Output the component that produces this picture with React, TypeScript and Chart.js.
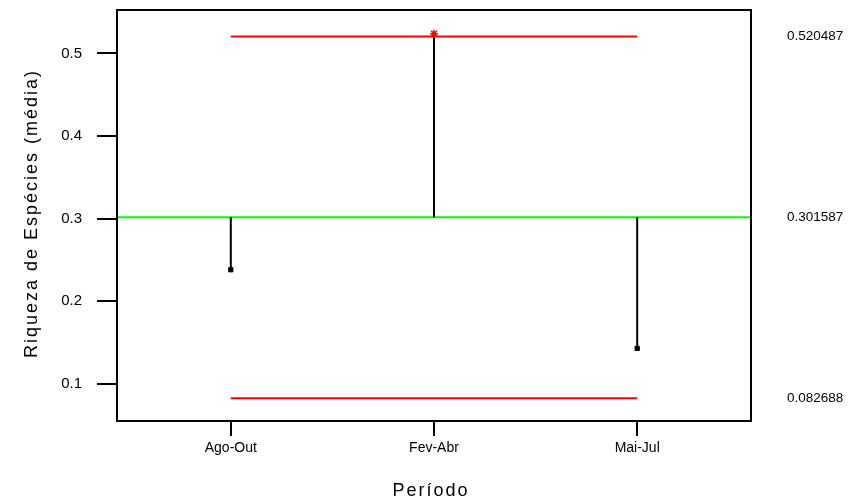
import React, { useEffect, useRef } from "react";
import { Chart, registerables } from "chart.js";

Chart.register(...registerables);

const categories = ["Ago-Out", "Fev-Abr", "Mai-Jul"];
const means = [0.238095, 0.52381, 0.142857];
const centerLine = 0.301587;
const upperLimit = 0.520487;
const lowerLimit = 0.082688;
const yTickValues = [0.1, 0.2, 0.3, 0.4, 0.5];
const yMin = 0.055;
const yMax = 0.5525;
const xMin = 0.44;
const xMax = 3.56;
const yTitle = "Riqueza de Espécies (média)";
const xTitle = "Período";

const FONT = "Arial, 'Liberation Sans', sans-serif";

export default function App() {
  const ref = useRef<HTMLCanvasElement | null>(null);

  useEffect(() => {
    const canvas = ref.current;
    if (!canvas) return;
    const xs = categories.map((_, i) => i + 1);

    const stemDatasets = means.map((m, i) => ({
      type: "line" as const,
      data: [
        { x: xs[i], y: centerLine },
        { x: xs[i], y: m },
      ],
      borderColor: "#000000",
      borderWidth: 2,
      pointRadius: 0,
      order: 3,
    }));

    const outside = means.map((m) => m > upperLimit || m < lowerLimit);

    const noPadV = (scale: any) => {
      scale.paddingTop = 0;
      scale.paddingBottom = 0;
    };

    const framePlugin = {
      id: "anomFrame",
      beforeDatasetsDraw(chart: any) {
        const { ctx, chartArea } = chart;
        const y = chart.scales.y.getPixelForValue(centerLine);
        ctx.save();
        ctx.strokeStyle = "#00ff00";
        ctx.lineWidth = 2;
        ctx.beginPath();
        ctx.moveTo(chartArea.left, y);
        ctx.lineTo(chartArea.right, y);
        ctx.stroke();
        ctx.restore();
      },
      afterDraw(chart: any) {
        const { ctx, chartArea } = chart;
        ctx.save();
        ctx.strokeStyle = "#000000";
        ctx.lineWidth = 2;
        ctx.strokeRect(
          chartArea.left,
          chartArea.top,
          chartArea.right - chartArea.left,
          chartArea.bottom - chartArea.top
        );
        // titles
        ctx.fillStyle = "#000000";
        ctx.font = `18px ${FONT}`;
        (ctx as any).letterSpacing = "2px";
        ctx.textAlign = "center";
        ctx.textBaseline = "alphabetic";
        ctx.fillText(xTitle, (chartArea.left + chartArea.right) / 2 - 3, 496);
        ctx.translate(36.5, (chartArea.top + chartArea.bottom) / 2 - 2);
        ctx.rotate(-Math.PI / 2);
        ctx.fillText(yTitle, 0, 0);
        ctx.restore();
      },
    };

    const chart = new Chart(canvas, {
      type: "scatter",
      data: {
        datasets: [
          {
            type: "line",
            data: [
              { x: 1, y: upperLimit },
              { x: 3, y: upperLimit },
            ],
            borderColor: "#ff0000",
            borderWidth: 2,
            pointRadius: 0,
            order: 2,
          },
          {
            type: "line",
            data: [
              { x: 1, y: lowerLimit },
              { x: 3, y: lowerLimit },
            ],
            borderColor: "#ff0000",
            borderWidth: 2,
            pointRadius: 0,
            order: 2,
          },
          ...stemDatasets,
          {
            type: "scatter",
            data: means.map((m, i) => ({ x: xs[i], y: m })),
            pointStyle: outside.map((o) => (o ? "star" : "rect")) as any,
            pointRadius: outside.map((o) => (o ? 4 : 3)),
            backgroundColor: outside.map((o) => (o ? "#ff0000" : "#000000")),
            borderColor: outside.map((o) => (o ? "#ff0000" : "#000000")),
            borderWidth: outside.map((o) => (o ? 1.5 : 1)),
            order: 1,
          },
        ] as any,
      },
      options: {
        animation: false,
        responsive: false,
        maintainAspectRatio: false,
        layout: { padding: { top: 10, left: 0, right: 0, bottom: 0 } },
        plugins: {
          legend: { display: false },
          tooltip: { enabled: false },
        },
        scales: {
          x: {
            type: "linear",
            min: xMin,
            max: xMax,
            afterBuildTicks: (scale: any) => {
              scale.ticks = xs.map((v) => ({ value: v }));
            },
            afterFit: (scale: any) => {
              scale.height = 83;
              scale.paddingLeft = 0;
              scale.paddingRight = 0;
            },
            grid: {
              display: true,
              drawOnChartArea: false,
              drawTicks: true,
              tickLength: 15,
              color: "#000000",
              lineWidth: 2,
            },
            border: { display: false },
            ticks: {
              color: "#000000",
              font: { family: FONT, size: 14 },
              padding: 4,
              maxRotation: 0,
              autoSkip: false,
              callback: (v: any) => categories[Math.round(Number(v)) - 1] ?? "",
            },
          },
          y: {
            type: "linear",
            position: "left",
            min: yMin,
            max: yMax,
            afterBuildTicks: (scale: any) => {
              scale.ticks = yTickValues.map((v) => ({ value: v }));
            },
            afterFit: (scale: any) => {
              scale.width = 117;
              noPadV(scale);
            },
            grid: {
              display: true,
              drawOnChartArea: false,
              drawTicks: true,
              tickLength: 20,
              color: "#000000",
              lineWidth: 2,
            },
            border: { display: false },
            ticks: {
              color: "#000000",
              font: { family: FONT, size: 15 },
              padding: 15,
              callback: (v: any) => Number(v).toFixed(1),
            },
          },
          y2: {
            type: "linear",
            position: "right",
            min: yMin,
            max: yMax,
            afterBuildTicks: (scale: any) => {
              scale.ticks = [lowerLimit, centerLine, upperLimit].map((v) => ({ value: v }));
            },
            afterFit: (scale: any) => {
              scale.width = 103;
              noPadV(scale);
            },
            grid: { display: false, drawTicks: false },
            border: { display: false },
            ticks: {
              color: "#000000",
              font: { family: FONT, size: 13.5 },
              padding: 36,
              callback: (v: any) => Number(v).toFixed(6),
            },
          },
        },
      },
      plugins: [framePlugin],
    });

    return () => chart.destroy();
  }, []);

  return (
    <div style={{ position: "fixed", left: 0, top: 0, width: 854, height: 504, background: "#fff" }}>
      <canvas ref={ref} width={854} height={504} style={{ width: 854, height: 504, display: "block" }} />
    </div>
  );
}
